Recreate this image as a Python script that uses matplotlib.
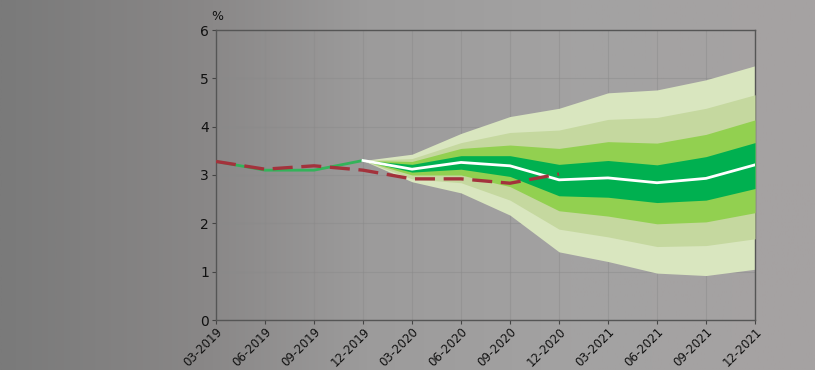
import matplotlib
matplotlib.use("Agg")
import matplotlib.pyplot as plt
import numpy as np
from matplotlib.colors import LinearSegmentedColormap

periods = ["03-2019", "06-2019", "09-2019", "12-2019", "03-2020", "06-2020",
           "09-2020", "12-2020", "03-2021", "06-2021", "09-2021", "12-2021"]

history = [3.28, 3.10, 3.10, 3.30]                      # 03-2019 .. 12-2019
previous = [3.28, 3.12, 3.19, 3.10, 2.92, 2.92, 2.83, 3.02]  # 03-2019 .. 12-2020
central = [3.30, 3.12, 3.26, 3.19, 2.90, 2.94, 2.84, 2.93, 3.21]  # 12-2019 .. 12-2021

outer_hi = [3.30, 3.43, 3.86, 4.21, 4.38, 4.70, 4.76, 4.97, 5.26]
mid_hi   = [3.30, 3.34, 3.67, 3.88, 3.93, 4.15, 4.19, 4.38, 4.66]
inner_hi = [3.30, 3.28, 3.55, 3.62, 3.55, 3.69, 3.66, 3.84, 4.14]
core_hi  = [3.30, 3.22, 3.40, 3.40, 3.22, 3.30, 3.21, 3.38, 3.67]
core_lo  = [3.30, 3.06, 3.12, 2.97, 2.57, 2.54, 2.43, 2.48, 2.72]
inner_lo = [3.30, 3.00, 3.00, 2.76, 2.26, 2.15, 1.99, 2.03, 2.22]
mid_lo   = [3.30, 2.92, 2.84, 2.48, 1.88, 1.72, 1.52, 1.54, 1.68]
outer_lo = [3.30, 2.86, 2.63, 2.17, 1.41, 1.21, 0.97, 0.92, 1.05]

yticks = [0, 1, 2, 3, 4, 5, 6]

plt.rcParams['font.family'] = ['Liberation Sans Narrow', 'DejaVu Sans']

fig = plt.figure(figsize=(8.15, 3.70), dpi=100)

# background gradient
bg = fig.add_axes([0, 0, 1, 1], zorder=-10)
cmap = LinearSegmentedColormap.from_list("bg", [(0.0, "#7a7a7a"), (0.25, "#898787"),
                                                (0.45, "#9c9b9b"), (0.7, "#a3a2a2"),
                                                (1.0, "#a6a2a2")])
grad = np.linspace(0, 1, 512).reshape(1, -1)
bg.imshow(grad, aspect="auto", cmap=cmap, extent=[0, 1, 0, 1])
bg.set_axis_off()

ax = fig.add_axes([216/815, 1 - 320/370, (755 - 216)/815, 290/370])
ax.patch.set_alpha(0)

x = np.arange(len(periods))
xf = x[3:]

ax.fill_between(xf, outer_lo, outer_hi, color="#d9e6bf", lw=0, zorder=2)
ax.fill_between(xf, mid_lo, mid_hi, color="#c5d89f", lw=0, zorder=3)
ax.fill_between(xf, inner_lo, inner_hi, color="#92d050", lw=0, zorder=4)
ax.fill_between(xf, core_lo, core_hi, color="#00b050", lw=0, zorder=5)

ax.plot(x[:4], history, color="#33b35a", lw=2, zorder=6)
ax.plot(xf, central, color="white", lw=2, zorder=7)
ax.plot(x[:8], previous, color="#a3323c", lw=2.4, dashes=(6, 2.6), zorder=8)

ax.set_xlim(0, len(periods) - 1)
ax.set_ylim(0, 6)
ax.set_yticks(yticks)
ax.set_yticklabels([str(v) for v in yticks], fontsize=10, color="#111111")
ax.set_xticks(x)
ax.set_xticklabels(periods, rotation=45, ha="right", rotation_mode="anchor",
                   fontsize=8.5, color="#111111")
ax.tick_params(axis="both", length=3, width=0.8, color="#444444", pad=2)
ax.tick_params(axis="x", pad=1)

ax.grid(True, color="#8a8a8a", lw=0.8, alpha=0.45, zorder=0)
ax.set_axisbelow(True)
for s in ax.spines.values():
    s.set_color("#555555")
    s.set_linewidth(1.0)

fig.text(211/815, 1 - 17/370, "%", fontsize=9, color="#111111", ha="left", va="center")

fig.savefig("out.png", dpi=100)
